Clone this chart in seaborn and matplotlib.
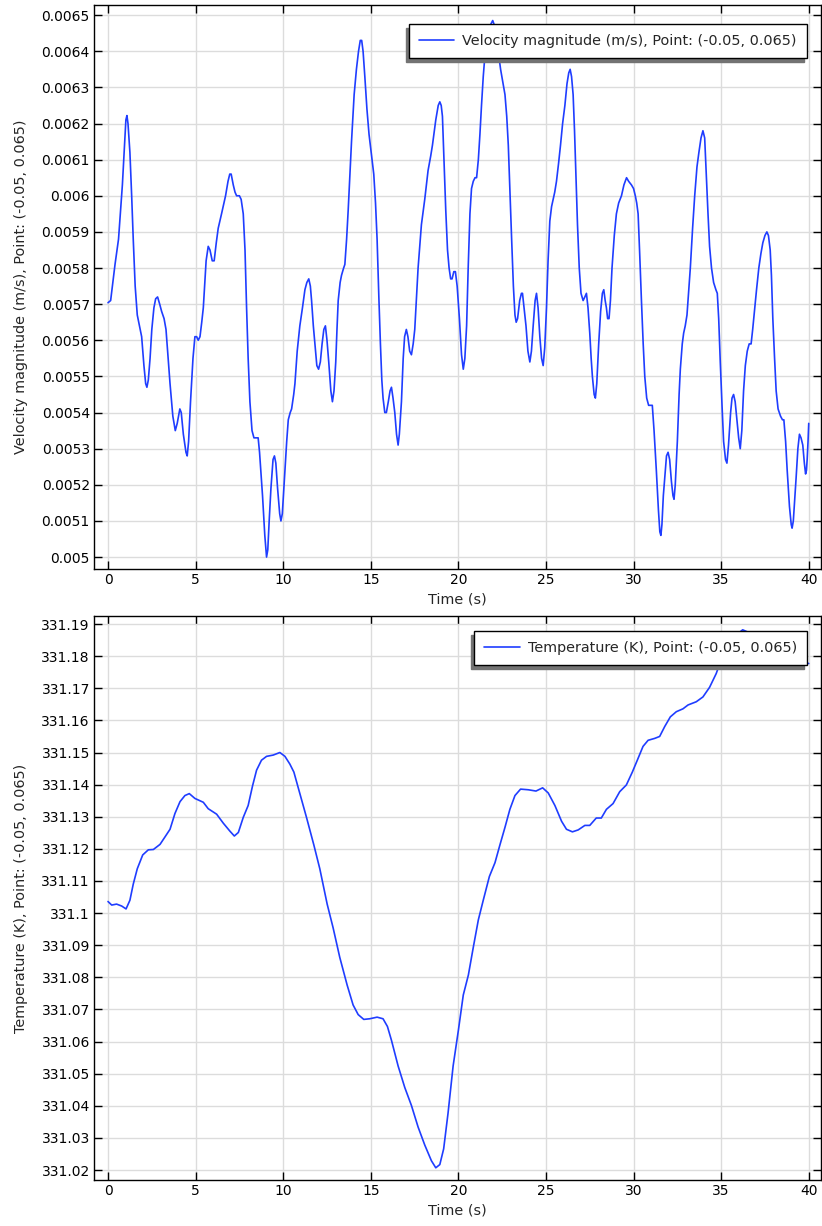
import numpy as np
import matplotlib
matplotlib.use('Agg')
import matplotlib.pyplot as plt
import seaborn as sns
from matplotlib.ticker import MultipleLocator, FuncFormatter

# velocity magnitude at point (-0.05, 0.065)
vel_t = [0.0, 0.15, 0.4, 0.6, 0.82, 0.95, 1.02, 1.08, 1.14, 1.25, 1.35, 1.44, 1.55, 1.67, 1.92,
         2.05, 2.15, 2.22, 2.3, 2.4, 2.5, 2.62, 2.72, 2.83, 2.95, 3.06, 3.2, 3.31, 3.42, 3.54,
         3.7, 3.84, 3.95, 4.1, 4.18, 4.3, 4.45, 4.52, 4.6, 4.71, 4.85, 4.96, 5.06, 5.15, 5.25,
         5.35, 5.44, 5.6, 5.72, 5.82, 5.95, 6.06, 6.18, 6.29, 6.48, 6.71, 6.85, 6.95, 7.03, 7.15,
         7.25, 7.34, 7.5, 7.6, 7.72, 7.82, 7.91, 8.0, 8.1, 8.22, 8.33, 8.45, 8.57, 8.65, 8.82,
         8.95, 9.05, 9.12, 9.2, 9.3, 9.42, 9.5, 9.58, 9.68, 9.8, 9.87, 9.95, 10.1, 10.2, 10.29,
         10.4, 10.48, 10.6, 10.67, 10.8, 10.95, 11.1, 11.24, 11.35, 11.46, 11.55, 11.62, 11.72,
         11.81, 11.92, 12.02, 12.12, 12.22, 12.32, 12.41, 12.5, 12.6, 12.72, 12.81, 12.9, 13.0,
         13.07, 13.14, 13.25, 13.33, 13.45, 13.52, 13.62, 13.71, 13.8, 13.9, 14.05, 14.18, 14.3,
         14.4, 14.48, 14.56, 14.66, 14.78, 14.9, 15.05, 15.17, 15.27, 15.36, 15.46, 15.55, 15.63,
         15.7, 15.8, 15.89, 16.0, 16.1, 16.18, 16.27, 16.37, 16.47, 16.56, 16.63, 16.75, 16.85,
         16.93, 17.03, 17.12, 17.22, 17.32, 17.42, 17.51, 17.6, 17.7, 17.89, 18.08, 18.27, 18.42,
         18.52, 18.71, 18.85, 18.94, 19.02, 19.09, 19.18, 19.28, 19.38, 19.47, 19.56, 19.64,
         19.74, 19.83, 19.93, 20.06, 20.18, 20.28, 20.37, 20.47, 20.56, 20.66, 20.75, 20.85,
         20.95, 21.04, 21.14, 21.23, 21.32, 21.42, 21.55, 21.65, 21.8, 21.96, 22.07, 22.18, 22.3,
         22.41, 22.55, 22.66, 22.76, 22.85, 22.95, 23.04, 23.14, 23.23, 23.3, 23.38, 23.5, 23.6,
         23.66, 23.75, 23.86, 23.97, 24.08, 24.17, 24.27, 24.38, 24.46, 24.55, 24.65, 24.75,
         24.84, 24.93, 25.03, 25.12, 25.22, 25.32, 25.41, 25.5, 25.6, 25.72, 25.83, 25.95, 26.08,
         26.2, 26.3, 26.38, 26.46, 26.55, 26.63, 26.71, 26.8, 26.9, 27.0, 27.12, 27.22, 27.31,
         27.4, 27.5, 27.58, 27.65, 27.75, 27.82, 27.9, 28.01, 28.12, 28.22, 28.3, 28.38, 28.45,
         28.52, 28.6, 28.68, 28.77, 28.9, 29.02, 29.15, 29.31, 29.45, 29.6, 29.72, 29.88, 30.0,
         30.1, 30.18, 30.26, 30.35, 30.45, 30.55, 30.64, 30.75, 30.86, 30.97, 31.07, 31.17, 31.3,
         31.42, 31.5, 31.56, 31.62, 31.7, 31.78, 31.88, 31.97, 32.06, 32.16, 32.25, 32.31, 32.38,
         32.5, 32.6, 32.67, 32.78, 32.86, 32.95, 33.05, 33.14, 33.24, 33.37, 33.49, 33.62, 33.73,
         33.85, 33.96, 34.06, 34.15, 34.25, 34.34, 34.45, 34.57, 34.7, 34.78, 34.86, 34.95,
         35.05, 35.14, 35.25, 35.33, 35.42, 35.54, 35.62, 35.71, 35.8, 35.9, 36.0, 36.09, 36.18,
         36.28, 36.38, 36.49, 36.6, 36.71, 36.8, 36.9, 37.02, 37.15, 37.27, 37.38, 37.5, 37.61,
         37.7, 37.8, 37.87, 37.95, 38.05, 38.14, 38.25, 38.39, 38.5, 38.58, 38.68, 38.77, 38.9,
         39.0, 39.05, 39.12, 39.2, 39.28, 39.38, 39.47, 39.56, 39.66, 39.75, 39.82, 39.87, 39.91,
         39.96, 40.0]
vel = [0.005704, 0.00571, 0.00581, 0.00588, 0.00603, 0.00615, 0.00621, 0.006222, 0.00620,
       0.00612, 0.00600, 0.00588, 0.00575, 0.00567, 0.00561, 0.00553, 0.00548, 0.00547, 0.00549,
       0.00555, 0.00563, 0.00569, 0.005715, 0.00572, 0.00570, 0.00568, 0.00566, 0.00563,
       0.00556, 0.00548, 0.00539, 0.00535, 0.00537, 0.00541, 0.00540, 0.00534, 0.00529, 0.00528,
       0.00532, 0.00543, 0.00555, 0.00561, 0.00561, 0.00560, 0.00561, 0.00565, 0.00569, 0.00582,
       0.00586, 0.00585, 0.00582, 0.00582, 0.00587, 0.00591, 0.00595, 0.00600, 0.00604, 0.00606,
       0.00606, 0.00603, 0.00601, 0.00600, 0.00600, 0.00599, 0.00595, 0.00585, 0.00569, 0.00555,
       0.00543, 0.00535, 0.00533, 0.00533, 0.00533, 0.00529, 0.00517, 0.00506, 0.00500, 0.00502,
       0.00510, 0.00519, 0.00527, 0.00528, 0.00526, 0.00519, 0.00512, 0.00510, 0.00512, 0.00524,
       0.00532, 0.00538, 0.00540, 0.00541, 0.00545, 0.00548, 0.00557, 0.00564, 0.00569, 0.00574,
       0.00576, 0.00577, 0.00575, 0.00571, 0.00564, 0.00559, 0.00553, 0.00552, 0.00554, 0.00559,
       0.00563, 0.00564, 0.00560, 0.00554, 0.00546, 0.00543, 0.00546, 0.00554, 0.00563, 0.00571,
       0.00576, 0.00578, 0.00580, 0.00581, 0.00588, 0.00596, 0.00605, 0.00615, 0.00628, 0.00635,
       0.00640, 0.00643, 0.00643, 0.00640, 0.00633, 0.00624, 0.00617, 0.00611, 0.00606, 0.00598,
       0.00588, 0.00572, 0.00559, 0.00549, 0.00544, 0.00540, 0.00540, 0.00543, 0.00546, 0.00547,
       0.00544, 0.00540, 0.00534, 0.00531, 0.00534, 0.00543, 0.00555, 0.00561, 0.00563, 0.00561,
       0.00557, 0.00556, 0.00559, 0.00563, 0.00571, 0.00580, 0.00592, 0.00599, 0.00607, 0.00611,
       0.00614, 0.00621, 0.00625, 0.00626, 0.00625, 0.00622, 0.00610, 0.00596, 0.00585, 0.00580,
       0.00577, 0.00577, 0.00579, 0.00579, 0.00575, 0.00566, 0.00556, 0.00552, 0.00555, 0.00564,
       0.00580, 0.00595, 0.00602, 0.00604, 0.00605, 0.00605, 0.00610, 0.00617, 0.00625, 0.00633,
       0.00641, 0.00645, 0.00647, 0.006485, 0.00647, 0.00643, 0.00639, 0.00635, 0.00631, 0.00628,
       0.00622, 0.00614, 0.00600, 0.00588, 0.00575, 0.00567, 0.00565, 0.00566, 0.00571, 0.00573,
       0.00573, 0.00569, 0.00564, 0.00557, 0.00554, 0.00557, 0.00564, 0.00571, 0.00573, 0.00569,
       0.00561, 0.00555, 0.00553, 0.00558, 0.00569, 0.00582, 0.00593, 0.00597, 0.00599, 0.00601,
       0.00604, 0.00609, 0.00614, 0.00620, 0.00625, 0.00631, 0.00634, 0.00635, 0.00633, 0.00628,
       0.00618, 0.00606, 0.00592, 0.00580, 0.00573, 0.00571, 0.00572, 0.00573, 0.00569, 0.00562,
       0.00555, 0.00550, 0.00545, 0.00544, 0.00548, 0.00559, 0.00568, 0.00573, 0.00574, 0.00571,
       0.00569, 0.00566, 0.00566, 0.00571, 0.00580, 0.00589, 0.00595, 0.00598, 0.00600, 0.00603,
       0.00605, 0.00604, 0.00603, 0.00602, 0.00600, 0.00598, 0.00595, 0.00584, 0.00571, 0.00559,
       0.00550, 0.00544, 0.00542, 0.00542, 0.00542, 0.00535, 0.00524, 0.00513, 0.00507, 0.00506,
       0.00509, 0.00517, 0.00522, 0.00528, 0.00529, 0.00527, 0.00521, 0.00517, 0.00516, 0.00520,
       0.00532, 0.00545, 0.00552, 0.00559, 0.00562, 0.00564, 0.00567, 0.00573, 0.00580, 0.00591,
       0.00600, 0.00608, 0.00612, 0.00616, 0.00618, 0.00616, 0.00606, 0.00595, 0.00586, 0.00580,
       0.00576, 0.00574, 0.00573, 0.00566, 0.00554, 0.00542, 0.00532, 0.00527, 0.00526, 0.00531,
       0.00540, 0.00544, 0.00545, 0.00543, 0.00538, 0.00533, 0.00530, 0.00535, 0.00546, 0.00553,
       0.00557, 0.00559, 0.00559, 0.00563, 0.00568, 0.00574, 0.00580, 0.00584, 0.00587, 0.00589,
       0.00590, 0.00589, 0.00585, 0.00578, 0.00566, 0.00555, 0.00546, 0.00541, 0.00539, 0.00538,
       0.00538, 0.00532, 0.00524, 0.00514, 0.00509, 0.00508, 0.00510, 0.00516, 0.00522, 0.00530,
       0.00534, 0.00533, 0.00531, 0.00526, 0.00523, 0.00524, 0.00527, 0.00532, 0.00537]

# temperature at the same point
temp_t = [0.0, 0.21, 0.49, 0.78, 1.03, 1.25, 1.44, 1.67, 1.98, 2.3, 2.59, 2.97, 3.25, 3.54,
          3.82, 4.11, 4.39, 4.64, 4.96, 5.44, 5.72, 6.2, 6.58, 6.96, 7.21, 7.44, 7.72, 8.0, 8.25,
          8.48, 8.76, 9.05, 9.43, 9.81, 10.1, 10.38, 10.61, 10.86, 11.33, 11.75, 12.09, 12.51,
          12.85, 13.23, 13.65, 13.99, 14.28, 14.6, 14.94, 15.36, 15.7, 15.95, 16.18, 16.56, 16.94,
          17.32, 17.7, 18.08, 18.46, 18.71, 18.94, 19.16, 19.41, 19.7, 20.0, 20.28, 20.57, 20.85,
          21.14, 21.42, 21.77, 22.09, 22.37, 22.66, 22.94, 23.23, 23.55, 23.99, 24.43, 24.81,
          25.13, 25.51, 25.89, 26.17, 26.51, 26.84, 27.22, 27.5, 27.87, 28.16, 28.45, 28.83,
          29.21, 29.59, 29.93, 30.26, 30.54, 30.83, 31.21, 31.49, 31.78, 32.1, 32.44, 32.82,
          33.11, 33.58, 33.96, 34.34, 34.72, 35.0, 35.5, 35.9, 36.23, 36.52, 37.2, 38.0, 39.0, 40.0]
temp = [331.1036, 331.1025, 331.1028, 331.1022, 331.1013, 331.104, 331.109, 331.1138, 331.1181,
        331.1197, 331.1198, 331.1214, 331.1237, 331.1261, 331.131, 331.1347, 331.1366, 331.1372,
        331.1357, 331.1345, 331.1325, 331.1308, 331.128, 331.1255, 331.124, 331.1251, 331.1298,
        331.1335, 331.1396, 331.1445, 331.1476, 331.1488, 331.1492, 331.15, 331.1488, 331.1464,
        331.1439, 331.139, 331.1298, 331.1212, 331.1138, 331.1028, 331.0954, 331.0862, 331.0776,
        331.0714, 331.0684, 331.0669, 331.0671, 331.0676, 331.0671, 331.0647, 331.0604, 331.0524,
        331.0457, 331.0401, 331.0334, 331.0278, 331.0229, 331.0207, 331.0217, 331.0266, 331.0377,
        331.0524, 331.0635, 331.0745, 331.0807, 331.0893, 331.0979, 331.104, 331.1114, 331.1157,
        331.1212, 331.1267, 331.1323, 331.1366, 331.1386, 331.1384, 331.138, 331.139, 331.1374,
        331.1335, 331.1286, 331.1261, 331.1253, 331.1259, 331.1273, 331.1273, 331.1296, 331.1296,
        331.1323, 331.1341, 331.1378, 331.1399, 331.1439, 331.1482, 331.1519, 331.1538, 331.1544,
        331.155, 331.1581, 331.1611, 331.1627, 331.1636, 331.1648, 331.1658, 331.1673, 331.1703,
        331.1746, 331.1789, 331.1835, 331.1868, 331.1882, 331.1875, 331.1855, 331.1825,
        331.1795, 331.1777]

vel_label = 'Velocity magnitude (m/s), Point: (-0.05, 0.065)'
temp_label = 'Temperature (K), Point: (-0.05, 0.065)'
LINE_COLOR = '#1f3dff'

sns.set_style('white')
plt.rcParams['font.family'] = ['DejaVu Sans']

TICK_FS = 10
LABEL_FS = 10.4


def fmt(v, pos):
    return f'{v:.5f}'.rstrip('0').rstrip('.')


def style_axes(ax, ylim, ystep):
    ax.set_xlim(-0.8, 40.7)
    ax.set_ylim(*ylim)
    ax.xaxis.set_major_locator(MultipleLocator(5))
    ax.yaxis.set_major_locator(MultipleLocator(ystep))
    ax.yaxis.set_major_formatter(FuncFormatter(fmt))
    ax.grid(True, color='#dcdcdc', linewidth=1.0)
    ax.set_axisbelow(True)
    ax.tick_params(direction='in', length=6, width=1, top=True, right=True,
                   bottom=True, left=True, labelsize=TICK_FS, colors='black', pad=3)
    for sp in ax.spines.values():
        sp.set_color('black')
        sp.set_linewidth(1.0)
    ax.set_xlabel('Time (s)', fontsize=LABEL_FS, labelpad=4)


def add_legend(ax, anchor):
    leg = ax.legend(loc='upper right', bbox_to_anchor=anchor, borderaxespad=0,
                    fontsize=LABEL_FS, frameon=True, fancybox=False, framealpha=1,
                    edgecolor='black', handlelength=2.45, borderpad=0.7, handletextpad=0.56,
                    shadow={'ox': -2.2, 'oy': -2.9, 'facecolor': '0.45', 'edgecolor': '0.45',
                            'alpha': 1})
    leg.get_frame().set_linewidth(1.0)
    leg.set_zorder(5)


fig = plt.figure(figsize=(8.22, 12.26), dpi=100)
W, H = 822, 1226
ax1 = fig.add_axes([94 / W, 1 - 569 / H, 727 / W, 564 / H])
ax2 = fig.add_axes([94 / W, 1 - 1180 / H, 727 / W, 564 / H])

sns.lineplot(x=vel_t, y=vel, ax=ax1, color=LINE_COLOR, linewidth=1.2, label=vel_label,
             sort=False, estimator=None)
style_axes(ax1, (0.004967, 0.006528), 0.0001)
ax1.set_ylabel(vel_label, fontsize=LABEL_FS, labelpad=9.5)
add_legend(ax1, (0.9807, 0.9663))

sns.lineplot(x=temp_t, y=temp, ax=ax2, color=LINE_COLOR, linewidth=1.2, label=temp_label,
             sort=False, estimator=None)
style_axes(ax2, (331.0169, 331.1925), 0.01)
ax2.set_ylabel(temp_label, fontsize=LABEL_FS, labelpad=9.5)
add_legend(ax2, (0.9807, 0.9734))

fig.savefig('out.png', dpi=100)
